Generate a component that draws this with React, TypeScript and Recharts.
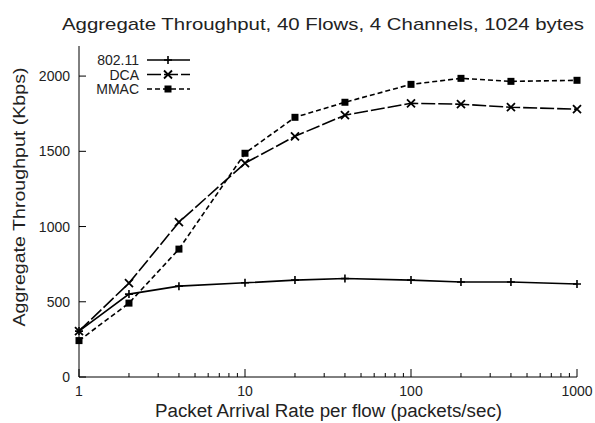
import { LineChart, Line, XAxis, YAxis } from "recharts";

// packets/sec per flow
const rates = [1, 2, 4, 10, 20, 40, 100, 200, 400, 1000];
// aggregate throughput, Kbps
const thr80211 = [305, 551, 604, 626, 644, 655, 644, 631, 631, 618];
const thrDCA = [305, 624, 1029, 1421, 1600, 1740, 1819, 1813, 1793, 1780];
const thrMMAC = [242, 491, 850, 1487, 1726, 1826, 1945, 1985, 1965, 1972];

const xTicks = [
  1, 2, 3, 4, 5, 6, 7, 8, 9, 10, 20, 30, 40, 50, 60, 70, 80, 90, 100, 200, 300,
  400, 500, 600, 700, 800, 900, 1000,
];
const yTicks = [0, 500, 1000, 1500, 2000];

const data = rates.map((rate, i) => ({
  rate,
  ieee: thr80211[i],
  dca: thrDCA[i],
  mmac: thrMMAC[i],
}));

const series = [
  { key: "ieee", name: "802.11", dash: undefined, shape: "plus" },
  { key: "dca", name: "DCA", dash: "14 3", shape: "cross" },
  { key: "mmac", name: "MMAC", dash: "5 3", shape: "square" },
];

const FONT = '"Liberation Sans", Arial, sans-serif';
const TEXT = "#222";

function Marker({ cx, cy, shape }: { cx: number; cy: number; shape: string }) {
  if (shape === "plus") {
    return (
      <path
        d={`M${cx - 4},${cy}H${cx + 4}M${cx},${cy - 4}V${cy + 4}`}
        stroke="#000"
        strokeWidth={1.6}
      />
    );
  }
  if (shape === "cross") {
    return (
      <path
        d={`M${cx - 4},${cy - 4}L${cx + 4},${cy + 4}M${cx - 4},${cy + 4}L${cx + 4},${cy - 4}`}
        stroke="#000"
        strokeWidth={1.8}
      />
    );
  }
  return <rect x={cx - 3.5} y={cy - 3.5} width={7} height={7} fill="#000" />;
}

const isMajor = (v: number) => Number.isInteger(Math.log10(v));

function BottomTick(props: any) {
  const { x, y, payload } = props;
  const major = isMajor(payload.value);
  return (
    <g>
      <line x1={x} x2={x} y1={y} y2={y - (major ? 8 : 4)} stroke="#000" />
      {major && (
        <text x={x} y={396} textAnchor="middle" fontSize={14} fontFamily={FONT} fill={TEXT}>
          {payload.value}
        </text>
      )}
    </g>
  );
}

function TopTick(props: any) {
  const { x, y, payload } = props;
  const major = isMajor(payload.value);
  return <line x1={x} x2={x} y1={y} y2={y + (major ? 8 : 4)} stroke="#000" />;
}

function LeftTick(props: any) {
  const { x, y, payload } = props;
  return (
    <g>
      <line x1={x} x2={x + 7} y1={y} y2={y} stroke="#000" />
      <text x={70} y={y + 5} textAnchor="end" fontSize={14} fontFamily={FONT} fill={TEXT}>
        {payload.value}
      </text>
    </g>
  );
}

function RightTick(props: any) {
  const { x, y } = props;
  return <line x1={x} x2={x - 7} y1={y} y2={y} stroke="#000" />;
}

function Overlay() {
  return (
    <svg
      width={595}
      height={423}
      style={{ position: "absolute", left: 0, top: 0, pointerEvents: "none" }}
    >
      <text
        x={323}
        y={29.5}
        textAnchor="middle"
        fontSize={17}
        fontFamily={FONT}
        fill={TEXT}
        textLength={522}
        lengthAdjust="spacingAndGlyphs"
      >
        Aggregate Throughput, 40 Flows, 4 Channels, 1024 bytes
      </text>
      <text
        x={328.5}
        y={417}
        textAnchor="middle"
        fontSize={18}
        fontFamily={FONT}
        fill={TEXT}
        textLength={347}
        lengthAdjust="spacingAndGlyphs"
      >
        Packet Arrival Rate per flow (packets/sec)
      </text>
      <text
        x={24.5}
        y={197}
        transform="rotate(-90, 24.5, 197)"
        textAnchor="middle"
        fontSize={17}
        fontFamily={FONT}
        fill={TEXT}
        textLength={259}
        lengthAdjust="spacingAndGlyphs"
      >
        Aggregate Throughput (Kbps)
      </text>
      {series.map((s, i) => {
        const cy = 60 + i * 14.5;
        return (
          <g key={s.key}>
            <text x={139} y={cy + 5} textAnchor="end" fontSize={14} fontFamily={FONT} fill={TEXT}>
              {s.name}
            </text>
            <line x1={147} x2={190} y1={cy} y2={cy} stroke="#000" strokeWidth={1.6} strokeDasharray={s.dash} />
            <Marker cx={168} cy={cy} shape={s.shape} />
          </g>
        );
      })}
    </svg>
  );
}

export default function App() {
  return (
    <div style={{ position: "absolute", left: 0, top: 0, width: 595, height: 423, background: "#fff" }}>
      <LineChart
        width={595}
        height={423}
        data={data}
        margin={{ top: 46, right: 18, bottom: 0, left: 0 }}
      >
        <XAxis
          xAxisId="b"
          dataKey="rate"
          type="number"
          scale="log"
          domain={[1, 1000]}
          ticks={xTicks}
          interval={0}
          height={46}
          tickSize={0}
          tickMargin={0}
          tickLine={false}
          tick={<BottomTick />}
          axisLine={{ stroke: "#000" }}
        />
        <XAxis
          xAxisId="t"
          orientation="top"
          dataKey="rate"
          type="number"
          scale="log"
          domain={[1, 1000]}
          ticks={xTicks}
          interval={0}
          height={0}
          tickSize={0}
          tickMargin={0}
          tickLine={false}
          tick={<TopTick />}
          axisLine={{ stroke: "#000" }}
        />
        <YAxis
          yAxisId="l"
          type="number"
          domain={[0, 2200]}
          ticks={yTicks}
          interval={0}
          width={79}
          tickSize={0}
          tickMargin={0}
          tickLine={false}
          tick={<LeftTick />}
          axisLine={{ stroke: "#000" }}
        />
        <YAxis
          yAxisId="r"
          orientation="right"
          type="number"
          domain={[0, 2200]}
          ticks={yTicks}
          interval={0}
          width={0}
          tickSize={0}
          tickMargin={0}
          tickLine={false}
          tick={<RightTick />}
          axisLine={{ stroke: "#000" }}
        />
        {series.map((s) => (
          <Line
            key={s.key}
            xAxisId="b"
            yAxisId="l"
            dataKey={s.key}
            name={s.name}
            type="linear"
            stroke="#000"
            strokeWidth={1.6}
            strokeDasharray={s.dash}
            dot={(p: any) => <Marker key={`${s.key}-${p.index}`} cx={p.cx} cy={p.cy} shape={s.shape} />}
            activeDot={false}
            isAnimationActive={false}
          />
        ))}
      </LineChart>
      <Overlay />
    </div>
  );
}
